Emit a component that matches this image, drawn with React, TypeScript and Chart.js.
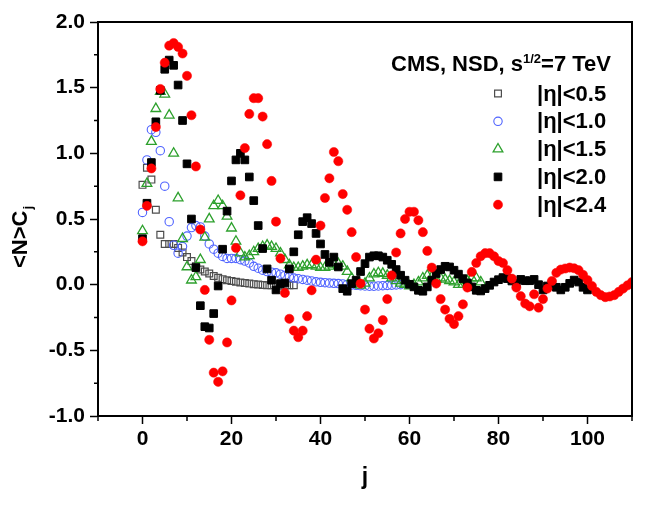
import { useEffect, useRef } from 'react';
import { Chart, registerables, type ChartConfiguration, type Plugin } from 'chart.js';
import { drawPoint } from 'chart.js/helpers';

Chart.register(...registerables);

// axis ticks
const X_TICKS = [0, 20, 40, 60, 80, 100];
const X_MINOR = [-10, 10, 30, 50, 70, 90, 110];
const Y_TICKS = [-1.0, -0.5, 0, 0.5, 1.0, 1.5, 2.0];
const Y_MINOR = [-0.75, -0.25, 0.25, 0.75, 1.25, 1.75];

// <N>C_j vs j, index of each array = j
const ETA05 = [
  0.76, 0.89, 0.80, 0.57, 0.38, 0.31, 0.31, 0.31, 0.28, 0.245,
  0.21, 0.18, 0.14, 0.115, 0.10, 0.085, 0.066, 0.052, 0.042, 0.034,
  0.028, 0.022, 0.017, 0.012, 0.008, 0.004, 0.001, -0.002, -0.004, -0.005,
  -0.006, -0.006, -0.006, -0.005, -0.005,
];
const ETA10 = [
  0.55, 0.95, 1.18, 1.16, 1.02, 0.75, 0.48, 0.30, 0.24, 0.29,
  0.37, 0.435, 0.45, 0.44, 0.37, 0.31, 0.27, 0.24, 0.215, 0.20,
  0.20, 0.20, 0.19, 0.18, 0.165, 0.14, 0.125, 0.11, 0.10, 0.095,
  0.09, 0.08, 0.07, 0.06, 0.05, 0.045, 0.04, 0.034, 0.028, 0.022,
  0.018, 0.015, 0.012, 0.01, 0.008, 0.006, 0.002, -0.002, -0.005, -0.008,
  -0.01, -0.012, -0.012, -0.01, -0.008, -0.006, -0.004, -0.002, 0.0,
];
const ETA15 = [
  0.41, 0.77, 1.09, 1.34, 1.47, 1.45, 1.29, 1.00, 0.66, 0.35,
  0.135, 0.034, 0.06, 0.19, 0.36, 0.50, 0.60, 0.64, 0.60, 0.52,
  0.43, 0.33, 0.24, 0.21, 0.22, 0.25, 0.275, 0.29, 0.30, 0.29,
  0.275, 0.24, 0.19, 0.15, 0.13, 0.13, 0.14, 0.15, 0.15, 0.14,
  0.13, 0.13, 0.14, 0.155, 0.16, 0.14, 0.10, 0.05, 0.01, -0.005,
  0.01, 0.05, 0.08, 0.09, 0.085, 0.07, 0.05, 0.03, 0.01, 0.0,
  -0.01, 0.0, 0.02, 0.05, 0.07, 0.06, 0.04, 0.05, 0.04, 0.03,
  0.02, 0.0, 0.0, 0.03, 0.05, 0.05, 0.02,
];
const ETA20 = [
  0.35, 0.62, 0.93, 1.24, 1.48, 1.64, 1.71, 1.67, 1.52, 1.25,
  0.92, 0.50, 0.13, -0.16, -0.32, -0.33, -0.22, -0.01, 0.27, 0.56,
  0.79, 0.95, 1.00, 0.95, 0.82, 0.64, 0.45, 0.275, 0.12, 0.034,
  -0.04, 0.008, 0.013, 0.12, 0.25, 0.38, 0.48, 0.51, 0.465, 0.39,
  0.31, 0.23, 0.17, 0.21, 0.135, -0.03, -0.05, 0.008, 0.034, 0.10,
  0.16, 0.21, 0.22, 0.22, 0.21, 0.186, 0.155, 0.115, 0.072, 0.034,
  0.003, -0.017, -0.043, -0.05, -0.017, 0.034, 0.085, 0.115, 0.14, 0.135,
  0.11, 0.08, 0.046, 0.013, -0.017, -0.043, -0.048, -0.03, -0.005, 0.02,
  0.038, 0.054, 0.046, 0.028, 0.01, 0.04, 0.03, 0.03, 0.04, 0.0,
  -0.04, -0.01, 0.005, -0.02, -0.04, -0.02, 0.01, 0.035, 0.02, -0.02,
  -0.04,
];
const ETA24 = [
  0.33, 0.60, 0.885, 1.20, 1.49, 1.69, 1.82, 1.84, 1.81, 1.76,
  1.59, 1.29, 0.90, 0.42, -0.04, -0.42, -0.67, -0.74, -0.66, -0.44,
  -0.12, 0.28, 0.68, 1.04, 1.30, 1.42, 1.42, 1.28, 1.07, 0.79,
  0.48, 0.20, -0.063, -0.26, -0.35, -0.40, -0.35, -0.24, -0.043, 0.19,
  0.45, 0.66, 0.81, 1.01, 0.94, 0.69, 0.57, 0.40, 0.21, 0.008,
  -0.19, -0.335, -0.41, -0.37, -0.27, -0.11, 0.07, 0.245, 0.39, 0.50,
  0.555, 0.555, 0.49, 0.40, 0.257, 0.13, 0.008, -0.11, -0.19, -0.26,
  -0.30, -0.24, -0.15, -0.022, 0.097, 0.165, 0.216, 0.24, 0.24, 0.216,
  0.18, 0.165, 0.11, 0.046, -0.022, -0.088, -0.144, -0.165, -0.073, -0.175,
  -0.11, -0.03, 0.028, 0.09, 0.115, 0.123, 0.13, 0.125, 0.11, 0.075,
  0.035, -0.01, -0.055, -0.08, -0.095, -0.09, -0.08, -0.055, -0.03, -0.005,
  0.02,
];

const SERIES = [ETA05, ETA10, ETA15, ETA20, ETA24];
const LABELS = ['|η|<0.5', '|η|<1.0', '|η|<1.5', '|η|<2.0', '|η|<2.4'];
const TITLE_PARTS = ['CMS, NSD, s', '1/2', '=7 TeV'];
const X_TITLE = 'j';
const Y_TITLE = '<N>C';
const Y_SUB = 'j';

const FONT = '"Liberation Sans", Arial, Helvetica, sans-serif';

const MARKERS = [
  { shape: 'rect', r: 4.8, fill: 'rgba(0,0,0,0)', stroke: '#4d4d4d', bw: 1.2 },
  { shape: 'circle', r: 4.2, fill: 'rgba(0,0,0,0)', stroke: '#4f63ff', bw: 1.1 },
  { shape: 'triangle', r: 5.6, fill: 'rgba(0,0,0,0)', stroke: '#2ca02c', bw: 1.3 },
  { shape: 'rect', r: 5.4, fill: '#000000', stroke: '#000000', bw: 1 },
  { shape: 'circle', r: 4.6, fill: '#ff0000', stroke: '#ff0000', bw: 0.5 },
];

const decor: Plugin<'scatter'> = {
  id: 'decor',
  afterDraw(chart) {
    const { ctx, chartArea: a } = chart;
    const xs = chart.scales.x;
    const ys = chart.scales.y;
    ctx.save();

    // top and right frame
    ctx.strokeStyle = '#000';
    ctx.lineWidth = 2;
    ctx.beginPath();
    ctx.moveTo(a.left - 1, a.top);
    ctx.lineTo(a.right, a.top);
    ctx.lineTo(a.right, a.bottom + 1);
    ctx.stroke();

    // minor ticks
    ctx.lineWidth = 1.5;
    ctx.beginPath();
    for (const v of X_MINOR) {
      const p = xs.getPixelForValue(v);
      ctx.moveTo(p, a.bottom);
      ctx.lineTo(p, a.bottom + 5);
    }
    for (const v of Y_MINOR) {
      const p = ys.getPixelForValue(v);
      ctx.moveTo(a.left, p);
      ctx.lineTo(a.left - 4, p);
    }
    ctx.stroke();

    // axis titles
    ctx.fillStyle = '#000';
    ctx.font = `bold 23px ${FONT}`;
    ctx.textAlign = 'center';
    ctx.textBaseline = 'alphabetic';
    ctx.fillText(X_TITLE, (a.left + a.right) / 2, 484);

    ctx.save();
    ctx.translate(27, 268);
    ctx.rotate(-Math.PI / 2);
    ctx.textAlign = 'left';
    ctx.font = `bold 22px ${FONT}`;
    ctx.fillText(Y_TITLE, 0, 0);
    const yw = ctx.measureText(Y_TITLE).width;
    ctx.font = `bold 13px ${FONT}`;
    ctx.fillText(Y_SUB, yw + 1, 5);
    ctx.restore();

    // legend title with superscript
    const [t0, sup, t1] = TITLE_PARTS;
    ctx.textAlign = 'left';
    ctx.font = `bold 22px ${FONT}`;
    const w0 = ctx.measureText(t0).width;
    const w2 = ctx.measureText(t1).width;
    ctx.font = `bold 13px ${FONT}`;
    const w1 = ctx.measureText(sup).width;
    let tx = 611 - (w0 + w1 + w2);
    ctx.font = `bold 22px ${FONT}`;
    ctx.fillText(t0, tx, 71);
    tx += w0;
    ctx.font = `bold 13px ${FONT}`;
    ctx.fillText(sup, tx, 63);
    tx += w1;
    ctx.font = `bold 22px ${FONT}`;
    ctx.fillText(t1, tx, 71);

    // legend entries
    ctx.textBaseline = 'middle';
    LABELS.forEach((label, i) => {
      const m = MARKERS[i];
      const ly = 93.5 + i * 27.8;
      ctx.fillStyle = m.fill;
      ctx.strokeStyle = m.stroke;
      ctx.lineWidth = m.bw;
      drawPoint(ctx, { pointStyle: m.shape as any, rotation: 0, radius: m.r, borderWidth: m.bw }, 498, ly);
      ctx.fillStyle = '#000';
      ctx.font = `bold 22px ${FONT}`;
      ctx.fillText(label, 537, ly + 1);
    });

    ctx.restore();
  },
};

export default function App() {
  const canvasRef = useRef<HTMLCanvasElement>(null);
  const chartRef = useRef<Chart | null>(null);

  useEffect(() => {
    if (!canvasRef.current) return;

    const datasets = SERIES.map((vals, i) => ({
      label: LABELS[i],
      data: vals.map((v, j) => ({ x: j, y: v })),
      pointStyle: MARKERS[i].shape as any,
      pointRadius: MARKERS[i].r,
      pointBackgroundColor: MARKERS[i].fill,
      pointBorderColor: MARKERS[i].stroke,
      pointBorderWidth: MARKERS[i].bw,
      order: SERIES.length - i,
    }));

    const tickFont = { family: FONT, size: 21, weight: 'bold' as const };
    const grid = {
      drawOnChartArea: false,
      drawTicks: true,
      tickLength: 8,
      tickColor: '#000',
      tickWidth: 1.5,
    };

    const config: ChartConfiguration<'scatter'> = {
      type: 'scatter',
      data: { datasets },
      options: {
        animation: false,
        responsive: true,
        maintainAspectRatio: false,
        layout: { padding: { top: 22, right: 20, left: 0, bottom: 0 } },
        plugins: { legend: { display: false }, tooltip: { enabled: false } },
        scales: {
          x: {
            type: 'linear',
            min: -10,
            max: 110,
            afterBuildTicks: (s) => { s.ticks = X_TICKS.map((value) => ({ value })); },
            afterFit: (s) => { s.height = 111; },
            grid,
            border: { display: true, color: '#000', width: 2 },
            ticks: {
              color: '#000',
              font: tickFont,
              padding: 3,
              maxRotation: 0,
              autoSkip: false,
              callback: (v) => String(v),
            },
          },
          y: {
            type: 'linear',
            min: -1,
            max: 2,
            afterBuildTicks: (s) => { s.ticks = Y_TICKS.map((value) => ({ value })); },
            afterFit: (s) => { s.width = 98; },
            grid,
            border: { display: true, color: '#000', width: 2 },
            ticks: {
              color: '#000',
              font: tickFont,
              padding: 5,
              autoSkip: false,
              callback: (v) => Number(v).toFixed(1),
            },
          },
        },
      },
      plugins: [decor],
    };

    chartRef.current = new Chart(canvasRef.current, config);
    return () => { chartRef.current?.destroy(); chartRef.current = null; };
  }, []);

  return (
    <div style={{ position: 'absolute', left: 0, top: 0, width: 652, height: 527, background: '#fff' }}>
      <canvas ref={canvasRef} aria-label="<N>C_j versus j" role="img" />
    </div>
  );
}
